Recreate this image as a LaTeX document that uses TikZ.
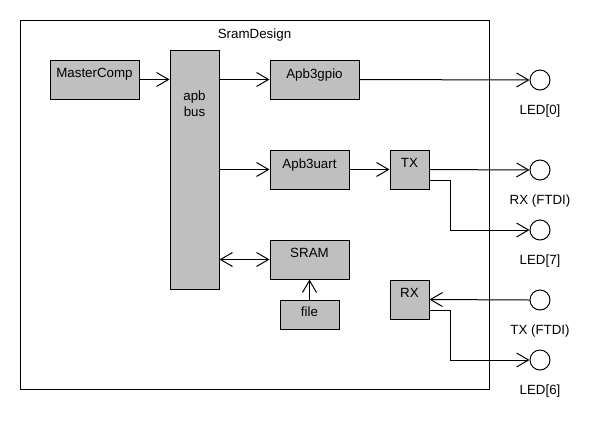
\documentclass[tikz,border=0pt]{standalone}
\usepackage{fontspec}
\setmainfont{Liberation Sans}
\usetikzlibrary{arrows.meta}

\begin{document}
\begin{tikzpicture}[x=0.75pt,y=-0.75pt,line width=0.75pt,font=\fontsize{10}{12}\selectfont,
    >={Straight Barb[length=9pt,width=10.5pt]}]
    \tikzstyle{blk}=[rectangle,draw=black,fill=gray!50,inner sep=0pt]
    \tikzstyle{tag}=[anchor=north,yshift=-3pt,align=center]
    \tikzstyle{io}=[circle,draw=black,fill=white,minimum size=15pt,inner sep=0pt]
    \tikzstyle{iotag}=[yshift=-7.2pt]

    \useasboundingbox (0,0) rectangle (600,430);

    % Frame
    \node [draw=black,minimum width=351.75pt,minimum height=276.75pt,
        label={[tag,yshift=-0.5pt]north:SramDesign}] (design) at (254.5,204.5) {};

    % Blocks
    \node [blk,minimum width=66.75pt,minimum height=29.25pt,
        label={[tag]north:MasterComp}] (master) at (94.5,79.5) {};
    \node [blk,minimum width=36.75pt,minimum height=179.25pt,
        label={[tag,yshift=-24pt]north:apb\\bus}] (bus) at (194.5,169.5) {};
    \node [blk,minimum width=66.75pt,minimum height=29.25pt,
        label={[tag]north:Apb3gpio}] (gpio) at (314.5,79.5) {};
    \node [blk,minimum width=59.25pt,minimum height=29.25pt,
        label={[tag]north:Apb3uart}] (uart) at (309.5,169.5) {};
    \node [blk,minimum width=29.25pt,minimum height=29.25pt,
        label={[tag]north:TX}] (tx) at (409.5,169.5) {};
    \node [blk,minimum width=59.25pt,minimum height=29.25pt,
        label={[tag]north:SRAM}] (sram) at (309.5,259.5) {};
    \node [blk,minimum width=44.25pt,minimum height=21.75pt,
        label={[tag,yshift=1pt]north:file}] (file) at (309.5,314.5) {};
    \node [blk,minimum width=29.25pt,minimum height=29.25pt,
        label={[tag]north:RX}] (rx) at (409.5,299.5) {};

    % Pins
    \node [io,label={[iotag]below:LED{[0]}}] (led0) at (540,80) {};
    \node [io,label={[iotag]below:RX (FTDI)}] (rxftdi) at (540,170) {};
    \node [io,label={[iotag]below:LED{[7]}}] (led7) at (540,230) {};
    \node [io,label={[iotag]below:TX (FTDI)}] (txftdi) at (540,300) {};
    \node [io,label={[iotag]below:LED{[6]}}] (led6) at (540,360) {};

    % Connections
    \draw [->] (master.east) -- (master.east -| bus.west);
    \draw [->] (bus.east |- gpio.west) -- (gpio.west);
    \draw [->] (bus.east |- uart.west) -- (uart.west);
    \draw [<->] (bus.east |- sram.west) -- (sram.west);
    \draw [->] (file.north) -- (sram.south);
    \draw [->] (uart.east) -- (tx.west);
    \draw [->] (gpio.east) -- (led0.west);
    \draw [->] (tx.east) -- (rxftdi.west);
    \draw [->] ([yshift=6.75pt]tx.south east) -- ++(15.75pt,0) |- (led7.west);
    \draw [->] (txftdi.west) -- (rx.east);
    \draw [->] ([yshift=6.75pt]rx.south east) -- ++(15.75pt,0) |- (led6.west);
\end{tikzpicture}
\end{document}
